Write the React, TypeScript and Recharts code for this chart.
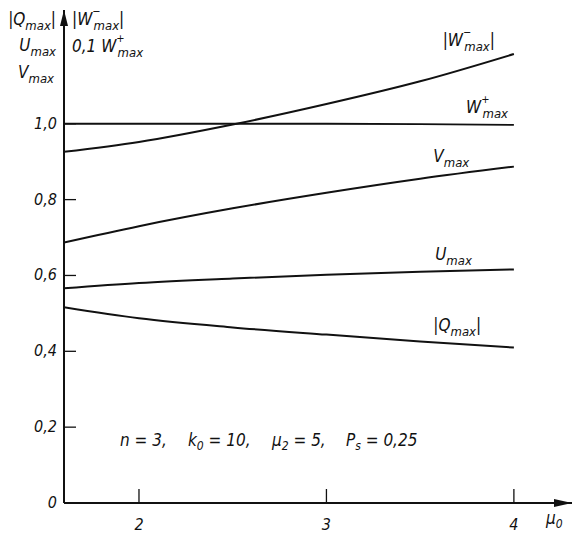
import React from "react";
import { LineChart, Line, XAxis, YAxis, ReferenceDot } from "recharts";

const MU = [1.6, 2, 2.5, 3, 3.5, 4];
const W_MINUS = [0.926, 0.952, 0.998, 1.052, 1.112, 1.184];
const W_PLUS = [1.0, 1.0, 1.0, 1.0, 0.999, 0.997];
const V_MAX = [0.687, 0.73, 0.777, 0.818, 0.855, 0.887];
const U_MAX = [0.566, 0.58, 0.592, 0.602, 0.61, 0.616];
const Q_MAX = [0.516, 0.487, 0.463, 0.444, 0.426, 0.41];

const X_TICKS = [2, 3, 4];
const Y_TICKS = [0, 0.2, 0.4, 0.6, 0.8, 1.0];

const data = MU.map((mu, i) => ({
  mu,
  wm: W_MINUS[i],
  wp: W_PLUS[i],
  v: V_MAX[i],
  u: U_MAX[i],
  q: Q_MAX[i],
}));

const FONT = "'Liberation Sans Narrow', 'DejaVu Sans Condensed', 'Liberation Sans', sans-serif";
const INK = "#111";

const fmt = (v: number) => (v === 0 ? "0" : v.toFixed(1).replace(".", ","));

// symbol like W with stacked super/subscript
function sym(base: string, sub: string, sup?: string, bars?: boolean) {
  return [
    bars ? <tspan key="l">|</tspan> : null,
    <tspan key="b">{base}</tspan>,
    sup ? (
      <tspan key="p" fontSize={11} dy={-10}>
        {sup}
      </tspan>
    ) : null,
    <tspan key="s" fontSize={13} dx={sup ? -7 : 0} dy={sup ? 15 : 5}>
      {sub}
    </tspan>,
    bars ? (
      <tspan key="r" dy={-5}>
        |
      </tspan>
    ) : null,
  ];
}

// letter with a plain subscript
function low(base: string, sub: string, rest: string) {
  return [
    <tspan key="b">{base}</tspan>,
    <tspan key="s" fontSize={12} dy={4}>
      {sub}
    </tspan>,
    <tspan key="r" dy={-4}>
      {rest}
    </tspan>,
  ];
}

const textStyle = {
  fontFamily: FONT,
  fontStyle: "italic" as const,
  fontSize: 17,
  fill: INK,
};

function tag(x: number, y: number, content: React.ReactNode, key: string) {
  return (
    <ReferenceDot
      key={key}
      x={x}
      y={y}
      r={0}
      ifOverflow="visible"
      shape={(p: any) => (
        <text x={p.cx} y={p.cy} {...textStyle}>
          {content}
        </text>
      )}
    />
  );
}

const YTick = (p: any) => (
  <g>
    <line x1={p.x} x2={p.x + 12} y1={p.y} y2={p.y} stroke={INK} strokeWidth={1.3} />
    <text x={p.x - 7} y={p.y} dy={5} textAnchor="end" {...textStyle} fontSize={16}>
      {fmt(p.payload.value)}
    </text>
  </g>
);

const XTick = (p: any) => (
  <g>
    <line x1={p.x} x2={p.x} y1={p.y} y2={p.y - 14} stroke={INK} strokeWidth={1.3} />
    <text x={p.x} y={p.y + 27} textAnchor="middle" {...textStyle} fontSize={16}>
      {p.payload.value}
    </text>
  </g>
);

export default function App() {
  return (
    <div style={{ position: "absolute", left: 0, top: 0, width: 574, height: 533, background: "#fff" }}>
      <LineChart
        width={574}
        height={533}
        data={data}
        margin={{ top: 10, right: 2, bottom: 0, left: 4 }}
      >
        <XAxis
          dataKey="mu"
          type="number"
          domain={[1.6, 4.31]}
          ticks={X_TICKS}
          allowDataOverflow
          height={30}
          tickSize={0}
          tickMargin={0}
          tick={<XTick />}
          axisLine={{ stroke: INK, strokeWidth: 2 }}
        />
        <YAxis
          type="number"
          domain={[0, 1.3]}
          ticks={Y_TICKS}
          allowDataOverflow
          width={60}
          tickSize={0}
          tickMargin={0}
          tick={<YTick />}
          axisLine={{ stroke: INK, strokeWidth: 2 }}
        />
        <Line type="monotone" dataKey="wm" stroke={INK} strokeWidth={2} dot={false} isAnimationActive={false} />
        <Line type="monotone" dataKey="wp" stroke={INK} strokeWidth={1.8} dot={false} isAnimationActive={false} />
        <Line type="monotone" dataKey="v" stroke={INK} strokeWidth={2} dot={false} isAnimationActive={false} />
        <Line type="monotone" dataKey="u" stroke={INK} strokeWidth={2} dot={false} isAnimationActive={false} />
        <Line type="monotone" dataKey="q" stroke={INK} strokeWidth={2} dot={false} isAnimationActive={false} />

        {/* axis arrow heads */}
        <ReferenceDot
          x={1.6}
          y={1.3}
          r={0}
          ifOverflow="visible"
          shape={(p: any) => (
            <polygon
              points={`${p.cx},${p.cy} ${p.cx - 4},${p.cy + 16} ${p.cx + 4},${p.cy + 16}`}
              fill={INK}
            />
          )}
        />
        <ReferenceDot
          x={4.31}
          y={0}
          r={0}
          ifOverflow="visible"
          shape={(p: any) => (
            <polygon
              points={`${p.cx},${p.cy} ${p.cx - 18},${p.cy - 4} ${p.cx - 18},${p.cy + 4}`}
              fill={INK}
            />
          )}
        />

        {/* curve names */}
        {tag(3.62, 1.205, sym("W", "max", "−", true), "lwm")}
        {tag(3.745, 1.028, sym("W", "max", "+"), "lwp")}
        {tag(3.57, 0.899, sym("V", "max"), "lv")}
        {tag(3.58, 0.641, sym("U", "max"), "lu")}
        {tag(3.57, 0.454, sym("Q", "max", undefined, true), "lq")}
      </LineChart>

      <svg
        width={574}
        height={533}
        style={{ position: "absolute", left: 0, top: 0, pointerEvents: "none" }}
      >
        <g {...textStyle}>
          <text x={56} y={25} textAnchor="end">{sym("Q", "max", undefined, true)}</text>
          <text x={56} y={51} textAnchor="end">{sym("U", "max")}</text>
          <text x={54} y={78} textAnchor="end">{sym("V", "max")}</text>
          <text x={72} y={25}>{sym("W", "max", "−", true)}</text>
          <text x={72} y={52}>
            <tspan>0,1 </tspan>
            {sym("W", "max", "+")}
          </text>

          {/* parameters of the calculation */}
          <text x={120} y={446}>n = 3,</text>
          <text x={188} y={446}>{low("k", "0", " = 10,")}</text>
          <text x={272} y={446}>{low("μ", "2", " = 5,")}</text>
          <text x={346} y={446}>{low("P", "s", " = 0,25")}</text>

          <text x={546} y={524}>{low("μ", "0", "")}</text>
        </g>
      </svg>
    </div>
  );
}
